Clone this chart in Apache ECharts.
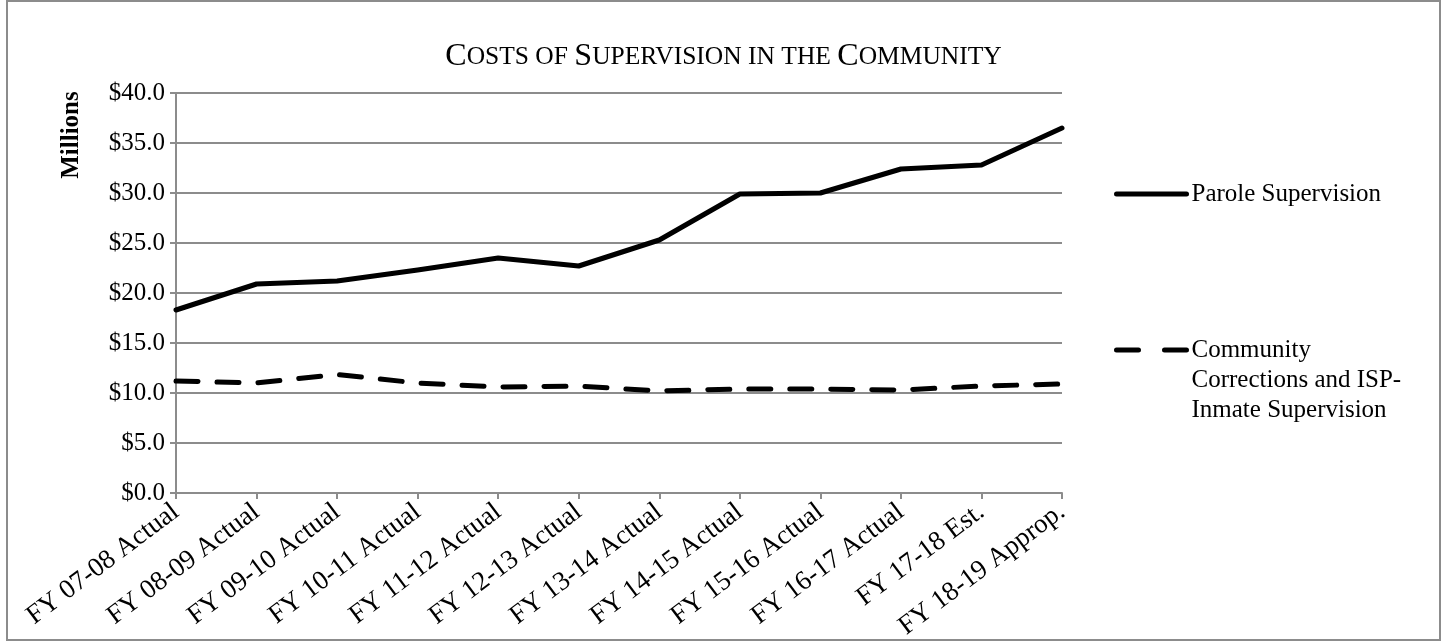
<!DOCTYPE html>
<html>
<head>
<meta charset="utf-8">
<script src="https://cdn.jsdelivr.net/npm/echarts@6/dist/echarts.min.js"></script>
<style>
html,body{margin:0;padding:0;background:#fff;}
#chart{width:1447px;height:644px;}
</style>
</head>
<body>
<div id="chart"></div>
<script>
const categories = ['FY 07-08 Actual','FY 08-09 Actual','FY 09-10 Actual','FY 10-11 Actual','FY 11-12 Actual','FY 12-13 Actual','FY 13-14 Actual','FY 14-15 Actual','FY 15-16 Actual','FY 16-17 Actual','FY 17-18 Est.','FY 18-19 Approp.'];
const paroleSupervision = [18.3, 20.9, 21.2, 22.3, 23.5, 22.7, 25.3, 29.9, 30.0, 32.4, 32.8, 36.5];
const communityCorrections = [11.2, 11.0, 11.85, 11.0, 10.6, 10.7, 10.2, 10.4, 10.4, 10.3, 10.7, 10.9];
const seriesNames = ['Parole Supervision', 'Community\nCorrections and ISP-\nInmate Supervision'];
const yTicks = { min: 0, max: 40, interval: 5 };

const FONT = "'Liberation Serif', 'Times New Roman', serif";
const GRAY = '#8c8c8c';
const chart = echarts.init(document.getElementById('chart'), null, {renderer: 'canvas'});
chart.setOption({
  backgroundColor: '#ffffff',
  animation: false,
  title: {
    text: '{a|C}{b|OSTS OF }{a|S}{b|UPERVISION IN THE }{a|C}{b|OMMUNITY}',
    left: 'center',
    top: 36,
    textStyle: {
      fontWeight: 'normal',
      rich: {
        a: { fontFamily: FONT, fontSize: 32, fontWeight: 'normal', color: '#000' },
        b: { fontFamily: FONT, fontSize: 25.5, fontWeight: 'normal', color: '#000' }
      }
    }
  },
  graphic: [
    { type: 'rect', shape: { x: 7, y: 1, width: 1433, height: 639 }, style: { fill: 'none', stroke: GRAY, lineWidth: 2 }, silent: true },
    { type: 'text', x: 72, y: 135, rotation: Math.PI / 2,
      style: { text: 'Millions', font: "bold 25px 'Liberation Serif', 'Times New Roman', serif", fill: '#000', align: 'center', verticalAlign: 'middle' } }
  ],
  legend: [
    {
      data: [seriesNames[0]],
      left: 1109, top: 174, orient: 'vertical',
      itemWidth: 70, itemHeight: 14,
      itemStyle: { opacity: 0 },
      lineStyle: { width: 5, cap: 'round' },
      textStyle: { fontFamily: FONT, fontSize: 25, color: '#000', lineHeight: 30 }
    },
    {
      data: [seriesNames[1]],
      left: 1109, top: 270, orient: 'vertical',
      itemWidth: 70, itemHeight: 14,
      itemStyle: { opacity: 0 },
      lineStyle: { width: 5, type: [22, 26], cap: 'round' },
      formatter: name => '\n\n' + name,
      textStyle: { fontFamily: FONT, fontSize: 25, color: '#000', lineHeight: 30 }
    }
  ],
  grid: { left: 176, right: 385, top: 93, bottom: 151, containLabel: false },
  xAxis: {
    type: 'category',
    data: categories,
    boundaryGap: false,
    axisLine: { show: true, lineStyle: { color: GRAY, width: 2 } },
    axisTick: { show: true, length: 6, lineStyle: { color: GRAY, width: 2 } },
    axisLabel: { rotate: 37, margin: 16, interval: 0, fontFamily: FONT, fontSize: 27, color: '#000' },
    splitLine: { show: false }
  },
  yAxis: {
    type: 'value',
    min: yTicks.min, max: yTicks.max, interval: yTicks.interval,
    axisLine: { show: true, lineStyle: { color: GRAY, width: 2 } },
    axisTick: { show: true, length: 6, lineStyle: { color: GRAY, width: 2 } },
    axisLabel: { margin: 11, fontFamily: FONT, fontSize: 25, color: '#000', formatter: v => '$' + v.toFixed(1) },
    splitLine: { show: true, lineStyle: { color: GRAY, width: 2 } }
  },
  series: [
    {
      name: seriesNames[0], type: 'line', data: paroleSupervision,
      symbol: 'none', smooth: false,
      lineStyle: { color: '#000', width: 5, cap: 'round', join: 'round' },
      itemStyle: { color: '#000' }
    },
    {
      name: seriesNames[1], type: 'line', data: communityCorrections,
      symbol: 'none', smooth: false,
      lineStyle: { color: '#000', width: 5, type: [22, 19], cap: 'round', join: 'round' },
      itemStyle: { color: '#000' }
    }
  ]
});
</script>
</body>
</html>
